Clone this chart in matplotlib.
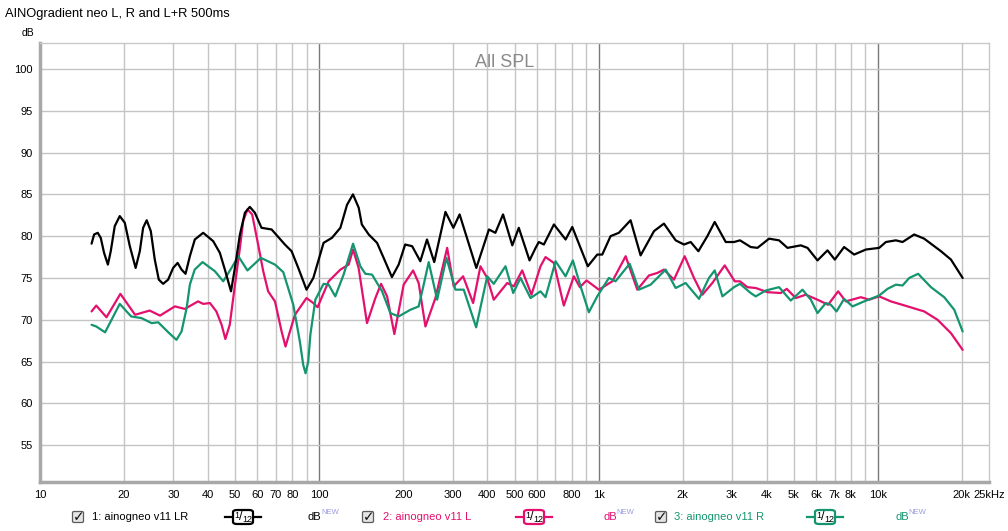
import matplotlib
matplotlib.use("Agg")
import matplotlib.pyplot as plt
from matplotlib.patches import FancyBboxPatch
from matplotlib.lines import Line2D
from matplotlib.ticker import FixedLocator, NullLocator

plt.rcParams['font.family'] = ['Liberation Sans', 'DejaVu Sans']

title = "AINOgradient neo L, R and L+R 500ms"
series_names = ["1: ainogneo v11 LR", "2: ainogneo v11 L", "3: ainogneo v11 R"]
series_colors = ["#000000", "#e3106e", "#14956f"]

lr_freq = [15.3, 15.62, 16.1, 16.5, 16.96, 17.5, 17.92, 18.52, 19.3, 20.12, 20.97, 22.0, 22.77,
           23.4, 24.1, 24.93, 25.76, 26.63, 27.6, 28.76, 29.97, 31.1, 32.12, 33.2, 34.4, 35.84,
           38.4, 41.7, 44.06, 45.91, 48.3, 49.87, 51.98, 54.16, 56.4, 58.8, 62.1, 67.5, 75.3,
           79.6, 84.1, 90.0, 95.2, 103.6, 111, 119, 125.7, 132, 138.4, 142, 150.3, 161, 170,
           182, 192.4, 203, 215, 230, 243,
           258, 283, 302, 318, 365, 405, 427, 455, 491, 518, 566, 595, 611, 637, 692, 762, 805,
           915, 989, 1031, 1104, 1182, 1302, 1414, 1579, 1714, 1888, 2022, 2137, 2277, 2452,
           2605, 2853, 3054, 3209, 3505, 3706, 4078, 4428, 4746, 5297, 5598, 6080, 6602, 7013,
           7571, 8225, 9058, 10110, 10685, 11600, 12260, 13490, 14650, 16820, 18270, 20120]
lr_db = [79.1, 80.2, 80.4, 79.8, 78.0, 76.6, 78.2, 81.2, 82.4, 81.6, 78.8, 76.2, 78.2,
         81.0, 81.9, 80.6, 77.2, 74.8, 74.3, 74.8, 76.2, 76.8, 76.0, 75.5, 77.6, 79.6,
         80.4, 79.4, 78.0, 76.0, 73.4, 76.2, 80.2, 82.8, 83.5, 82.8, 81.0, 80.8, 79.0,
         78.2, 76.2, 73.6, 75.0, 79.2, 79.8, 81.0, 83.75, 85.0, 83.4, 81.4, 80.2, 79.2, 77.4,
         75.1, 76.6, 79.0, 78.8, 77.0, 79.6,
         76.9, 82.9, 81.0, 82.6, 76.2, 80.8, 80.4, 82.6, 78.9, 81.0, 77.1, 78.6, 79.3, 79.0, 81.4,
         79.6, 81.1, 76.4, 77.8, 77.8, 80.0, 80.4, 81.9, 77.7, 80.6, 81.5, 79.5, 79.0, 79.3, 78.2,
         80.0, 81.7, 79.3, 79.3, 79.5, 78.7, 78.6, 79.7, 79.5, 78.6, 78.9, 78.6, 77.1, 78.3, 77.2,
         78.7, 77.8, 78.4, 78.6, 79.3, 79.5, 79.3, 80.2, 79.7, 78.2, 77.2, 75.0]

l_freq = [15.3, 15.9, 17.3, 19.4, 21.9, 24.7, 26.9, 30.4, 33.0, 36.8, 38.4, 40.6, 42.8, 44.7,
          46.1, 47.8, 49.9, 51.98, 53.4, 55.3, 57.5, 60.4, 63.0, 65.6, 69.4, 73.3, 75.7, 78.5,
          81.8, 90.0, 95.2, 98.6, 108, 119, 127.4, 132.1,
          138.3, 148.2, 158.8, 166.4, 174.9, 185.7, 200.5, 216.7, 226.9, 239.9, 260.5, 287,
          303, 327.3, 355.5, 377.6, 399.3, 421.4, 470.9, 497.1, 532.8, 575, 619.6, 645.7,
          691.7, 750.9, 815.6, 857, 905.7, 1002.5, 1120, 1250, 1376, 1515, 1623, 1714, 1862,
          2034, 2196, 2353, 2555, 2829, 3073, 3209, 3412, 3654, 4025, 4491, 4718, 5082, 5521,
          6080, 6636, 7207, 7679, 8690, 9307, 10110, 11130, 12780, 14650, 16360, 18270, 20120]
l_db = [71.0, 71.7, 70.3, 73.1, 70.6, 71.1, 70.5, 71.6, 71.3, 72.2, 71.9, 72.0, 71.0, 69.4,
        67.7, 69.4, 74.2, 78.6, 81.8, 83.2, 82.6, 79.0, 75.8, 73.4, 72.2, 68.6, 66.8, 68.6,
        70.6, 72.6, 72.0, 71.5, 74.6, 76.0, 76.6, 78.4,
        76.2, 69.6, 72.6, 74.3, 72.8, 68.3, 74.2, 75.9, 74.4, 69.2, 72.6, 78.6,
        74.0, 75.2, 72.0, 76.4, 75.0, 72.4, 74.4, 74.0, 75.9, 73.0, 76.4, 77.5,
        76.8, 71.7, 75.2, 73.9, 74.7, 73.6, 74.6, 77.6, 73.6, 75.3, 75.6, 76.0, 74.8,
        77.6, 75.0, 73.0, 74.4, 76.5, 74.6, 74.6, 73.9, 73.8, 73.3, 73.2, 73.7, 72.6, 73.0,
        72.4, 71.8, 73.4, 72.2, 72.7, 72.4, 72.8, 72.2, 71.6, 71.0, 70.0, 68.4, 66.4]

r_freq = [15.3, 15.9, 17.1, 19.3, 21.2, 23.1, 25.1, 26.5, 28.8, 30.8, 32.12, 33.5, 34.4, 35.8,
          38.2, 42.3, 45.3, 48.5, 51.3, 55.3, 61.8, 69.4, 74.3, 80.7, 85.2, 87.6, 89.3, 91.3,
          92.9, 96.8, 103.6, 108.0,
          114.1, 122.2, 132.1, 140.3, 146.2, 154.5, 167.8, 179.7, 192.4, 212, 226.9, 236.5,
          246.5, 264.2, 285.3, 307.3, 329, 364.5, 399.3, 421.4, 464.2, 494.7, 525.4, 570.6,
          619.6, 645.7, 701.5, 761.6, 809, 862, 923, 989, 1089, 1150, 1292, 1394, 1536, 1739,
          1888, 2050, 2289, 2484, 2605, 2776, 3054, 3209, 3505, 3654, 3968, 4428, 4877, 5372,
          5754, 6080, 6510, 6784, 7112, 7571, 8116, 8931, 10110, 10830, 11600, 12260, 12950,
          13940, 15490, 17280, 18770, 20120]
r_db = [69.4, 69.2, 68.5, 71.9, 70.4, 70.2, 69.6, 69.7, 68.5, 67.6, 68.6, 71.4, 74.2, 76.0,
        76.9, 75.8, 74.6, 76.2, 77.6, 75.9, 77.4, 76.6, 75.7, 71.8, 67.4, 64.6, 63.6, 65.0,
        68.2, 72.4, 74.3, 74.2,
        72.8, 75.4, 79.1, 76.4, 75.5, 75.4, 73.4, 70.8, 70.4, 71.2, 71.6, 74.2,
        76.9, 72.4, 77.4, 73.6, 73.6, 69.1, 75.2, 74.3, 76.4, 73.2, 75.0, 72.6,
        73.4, 72.7, 77.0, 75.2, 77.1, 74.0, 70.9, 72.8, 75.0, 74.6, 76.7, 73.6, 74.2, 76.0,
        73.8, 74.4, 72.5, 75.0, 75.9, 72.8, 73.9, 74.3, 73.2, 72.8, 73.5, 73.9, 72.3, 73.6,
        72.4, 70.8, 72.0, 71.8, 71.0, 72.5, 71.6, 72.2, 72.9, 73.7, 74.2, 74.1, 75.0,
        75.5, 73.9, 72.7, 71.2, 68.6]

x_tick_vals = [10, 20, 30, 40, 50, 60, 70, 80, 100, 200, 300, 400, 500, 600, 800,
               1000, 2000, 3000, 4000, 5000, 6000, 7000, 8000, 10000, 20000, 25000]
x_tick_labels = ["10", "20", "30", "40", "50", "60", "70", "80", "100", "200", "300", "400",
                 "500", "600", "800", "1k", "2k", "3k", "4k", "5k", "6k", "7k", "8k", "10k",
                 "20k", "25kHz"]
y_tick_vals = [55, 60, 65, 70, 75, 80, 85, 90, 95, 100]

W, H = 1008, 531
fig = plt.figure(figsize=(W / 100, H / 100), dpi=100)
fig.patch.set_facecolor("white")
ax = fig.add_axes([40 / W, 1 - 482 / H, 949 / W, (482 - 43) / H])
ax.set_xscale("log")
ax.set_xlim(10, 25000)
ax.set_ylim(50.6, 103.1)

minor_grid = [f * d for d in (10, 100, 1000) for f in range(2, 10)] + [20000]
for f in minor_grid:
    ax.axvline(f, color="#c4c4c4", lw=1.0, zorder=0)
for f in (100, 1000, 10000):
    ax.axvline(f, color="#7a7a7a", lw=1.0, zorder=0)
for v in y_tick_vals:
    ax.axhline(v, color="#c4c4c4", lw=1.0, zorder=0)

ax.xaxis.set_major_locator(FixedLocator(x_tick_vals))
ax.set_xticklabels(x_tick_labels)
ax.xaxis.set_minor_locator(NullLocator())
ax.set_yticks(y_tick_vals)
ax.tick_params(axis="both", length=0, labelsize=8, colors="#000000")
ax.tick_params(axis="x", pad=6)
ax.tick_params(axis="y", pad=5)

for s in ("top", "right"):
    ax.spines[s].set_color("#c8c8c8")
    ax.spines[s].set_linewidth(1.0)
for s in ("left", "bottom"):
    ax.spines[s].set_color("#a8a8a8")
    ax.spines[s].set_linewidth(2.5)

line_kw = dict(lw=1.6, solid_joinstyle="round", solid_capstyle="round")
ax.plot(l_freq, l_db, color=series_colors[1], zorder=3, **line_kw)
ax.plot(r_freq, r_db, color=series_colors[2], zorder=3, **line_kw)
ax.plot(lr_freq, lr_db, color=series_colors[0], zorder=4, **line_kw)

ax.text(0.49, 0.955, "All SPL", transform=ax.transAxes, ha="center", va="center",
        fontsize=13, color="#8a8a8a")


def fx(px):
    return px / W


def fy(py):
    return 1 - py / H


fig.text(fx(5), fy(14), title, fontsize=9.3, ha="left", va="center")
fig.text(fx(22), fy(33), "dB", fontsize=7.5, ha="left", va="center")

leg_y = 517
items = [
    (78, 92, 243, 308, series_names[0], series_colors[0]),
    (368, 383, 534, 603, series_names[1], series_colors[1]),
    (661, 674, 825, 895, series_names[2], series_colors[2]),
]
for cb_x, tx, sym_x, db_x, name, col in items:
    box = FancyBboxPatch((fx(cb_x - 5.5), fy(leg_y + 5.5)), 11 / W, 11 / H,
                         boxstyle="round,pad=0,rounding_size=0.002",
                         transform=fig.transFigure, facecolor="#e4e4e4",
                         edgecolor="#5a5a5a", lw=0.9)
    fig.patches.append(box)
    fig.text(fx(cb_x + 0.5), fy(leg_y), "\u2713", fontsize=10, ha="center", va="center",
             color="#111111", family="DejaVu Sans", fontweight="bold")
    fig.text(fx(tx), fy(leg_y), name, fontsize=8, color=col, ha="left", va="center")
    fig.lines.append(Line2D([fx(sym_x - 18), fx(sym_x + 18)], [fy(leg_y), fy(leg_y)],
                            transform=fig.transFigure, color=col, lw=1.6))
    sb = FancyBboxPatch((fx(sym_x - 10), fy(leg_y + 7)), 20 / W, 14 / H,
                        boxstyle="round,pad=0,rounding_size=0.004",
                        transform=fig.transFigure, facecolor="white",
                        edgecolor=col, lw=1.6, zorder=5)
    fig.patches.append(sb)
    fig.text(fx(sym_x - 6), fy(leg_y - 2), "1", fontsize=6.5, ha="center", va="center", zorder=6)
    fig.text(fx(sym_x - 2), fy(leg_y), "/", fontsize=9, ha="center", va="center", zorder=6)
    fig.text(fx(sym_x + 4), fy(leg_y + 2), "12", fontsize=6.5, ha="center", va="center", zorder=6)
    fig.text(fx(db_x), fy(leg_y), "dB", fontsize=8, color=col, ha="left", va="center")
    fig.text(fx(db_x + 13), fy(leg_y - 4), "NEW", fontsize=5.5, color="#9a9ae0",
             ha="left", va="center")

fig.savefig("out.png", dpi=100, facecolor="white")
